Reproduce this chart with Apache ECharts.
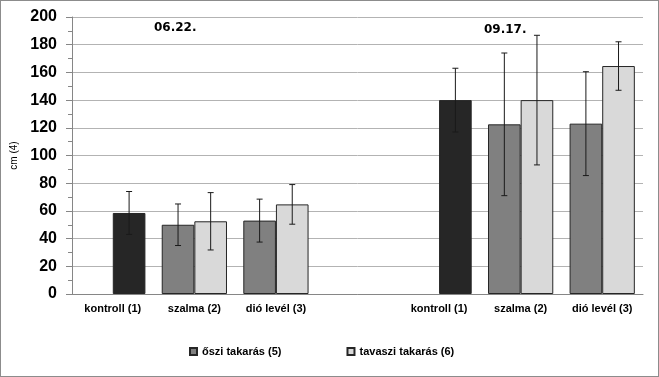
<!DOCTYPE html>
<html>
<head>
<meta charset="utf-8">
<script src="https://cdn.jsdelivr.net/npm/echarts@6/dist/echarts.min.js"></script>
<style>
  html, body { margin: 0; padding: 0; background: #fff; }
  #chart { width: 659px; height: 377px; box-sizing: border-box; border: 1px solid #8c8c8c; }
</style>
</head>
<body>
<div id="chart"></div>
<script>
// categories along the x axis (index 3 is an empty spacer)
var categories = ['kontroll (1)', 'szalma (2)', 'dió levél (3)', '', 'kontroll (1)', 'szalma (2)', 'dió levél (3)'];
var dates = ['06.22.', '09.17.'];

// őszi takarás (5) -- left slot
var oszi = [null, 50, 53, null, null, 122.5, 123];
var osziErr = [null, 15, 15.5, null, null, 51.5, 37.5];
// tavaszi takarás (6) -- right slot; kontroll bars sit in this slot too
var tavaszi = [58.5, 52.5, 64.7, null, 140, 140, 164.6];
var tavasziErr = [15.5, 20.7, 14.3, null, 23, 46.8, 17.5];
var kontrollIdx = [0, 4];

var yTicks = { min: 0, max: 200, interval: 20 };

var colors = { kontroll: '#262626', oszi: '#808080', tavaszi: '#d9d9d9' };
var font = 'Liberation Sans';

var myChart = echarts.init(document.getElementById('chart'));

function barItems(values, color, special) {
    return values.map(function (v, i) {
        if (v == null) return '-';
        var c = (special && special.indexOf(i) >= 0) ? colors.kontroll : color;
        return { value: v, itemStyle: { color: c } };
    });
}

var errData = [];
oszi.forEach(function (v, i) {
    if (v != null) errData.push([i, v - osziErr[i], v + osziErr[i], 0]);
});
tavaszi.forEach(function (v, i) {
    if (v != null) errData.push([i, v - tavasziErr[i], v + tavasziErr[i], 1]);
});

function renderErr(params, api) {
    var idx = api.value(0);
    var lo = api.coord([idx, api.value(1)]);
    var hi = api.coord([idx, api.value(2)]);
    var catW = api.size([1, 0])[0];
    var w = catW * 0.8 / 2;
    var x = lo[0] + (api.value(3) === 0 ? -w / 2 : w / 2);
    var cap = 3;
    var st = { stroke: '#1a1a1a', lineWidth: 1 };
    return {
        type: 'group',
        children: [
            { type: 'line', shape: { x1: x, y1: lo[1], x2: x, y2: hi[1] }, style: st },
            { type: 'line', shape: { x1: x - cap, y1: lo[1], x2: x + cap, y2: lo[1] }, style: st },
            { type: 'line', shape: { x1: x - cap, y1: hi[1], x2: x + cap, y2: hi[1] }, style: st }
        ]
    };
}

var option = {
    animation: false,
    grid: { left: 69, right: 15, top: 16, bottom: 82 },
    legend: {
        bottom: 14,
        left: 183,
        itemWidth: 7,
        itemHeight: 7,
        itemGap: 65,
        icon: 'rect',
        data: ['őszi takarás (5)', 'tavaszi takarás (6)'],
        textStyle: { fontFamily: font, fontWeight: 'bold', fontSize: 11, color: '#000' }
    },
    xAxis: {
        type: 'category',
        data: categories,
        axisLine: { lineStyle: { color: '#868686' } },
        axisTick: { length: 5, lineStyle: { color: '#868686' } },
        axisLabel: { interval: 0, margin: 9, fontFamily: font, fontWeight: 'bold', fontSize: 11, color: '#000' }
    },
    yAxis: {
        type: 'value',
        min: yTicks.min,
        max: yTicks.max,
        interval: yTicks.interval,
        name: 'cm (4)',
        nameLocation: 'middle',
        nameGap: 53,
        nameTextStyle: { fontFamily: font, fontSize: 10, color: '#000' },
        axisLine: { show: true, lineStyle: { color: '#868686' } },
        axisTick: { show: true, length: 6, lineStyle: { color: '#868686' } },
        minorTick: { show: true, splitNumber: 2, length: 4, lineStyle: { color: '#868686' } },
        splitLine: { lineStyle: { color: '#b3b3b3' } },
        axisLabel: { margin: 15, fontFamily: font, fontWeight: 'bold', fontSize: 16, color: '#000' }
    },
    graphic: [
        { type: 'text', left: 153, top: 21, style: { text: dates[0], font: 'bold 12px "DejaVu Sans"', fill: '#000' } },
        { type: 'text', left: 483, top: 23, style: { text: dates[1], font: 'bold 12px "DejaVu Sans"', fill: '#000' } }
    ],
    series: [
        {
            name: 'őszi takarás (5)',
            type: 'bar',
            barGap: '0%',
            barCategoryGap: '20%',
            itemStyle: { color: colors.oszi, borderColor: '#262626', borderWidth: 1 },
            data: barItems(oszi, colors.oszi)
        },
        {
            name: 'tavaszi takarás (6)',
            type: 'bar',
            barGap: '0%',
            barCategoryGap: '20%',
            itemStyle: { color: colors.tavaszi, borderColor: '#262626', borderWidth: 1 },
            data: barItems(tavaszi, colors.tavaszi, kontrollIdx)
        },
        {
            type: 'custom',
            renderItem: renderErr,
            data: errData,
            z: 10,
            silent: true
        }
    ]
};
myChart.setOption(option);
</script>
</body>
</html>
